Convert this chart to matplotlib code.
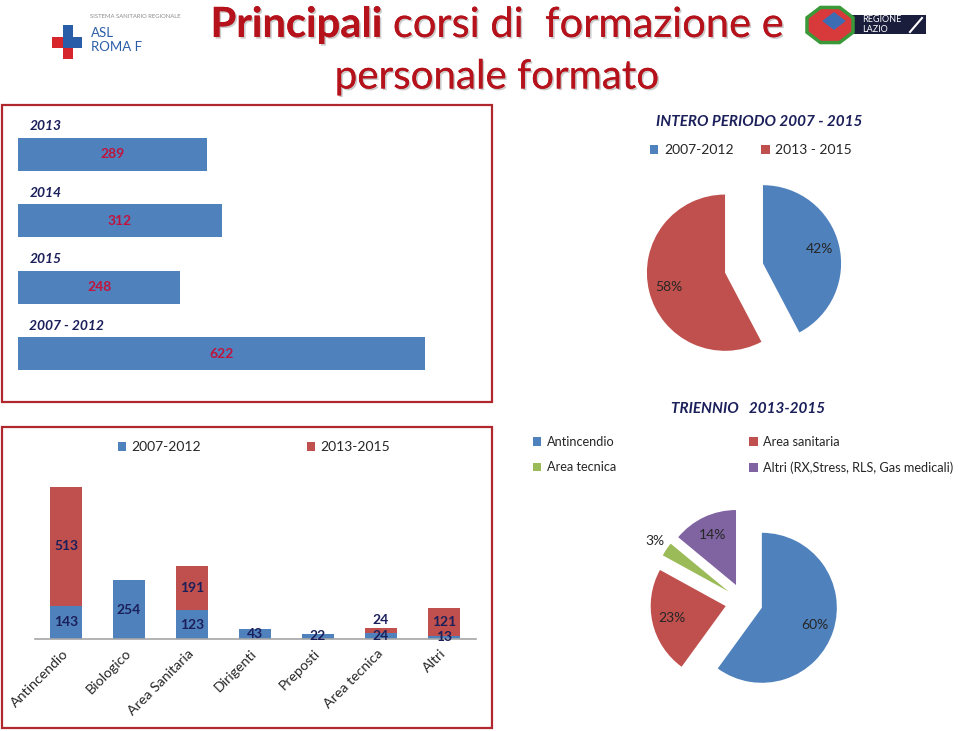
import matplotlib
matplotlib.use("Agg")
import numpy as np
import matplotlib.pyplot as plt
import matplotlib.patches as patches
from matplotlib import patheffects

plt.rcParams["font.family"] = ["Lato", "DejaVu Sans"]

W, H = 959, 731

# --- dati ---
anni = ["2013", "2014", "2015", "2007 - 2012"]
formati_anno = [289, 312, 248, 622]

periodi = ["2007-2012", "2013 - 2015"]
totale_periodi = [622, 849]

categorie = ["Antincendio", "Biologico", "Area Sanitaria", "Dirigenti",
             "Preposti", "Area tecnica", "Altri"]
corsi_0712 = [143, 254, 123, 43, 22, 24, 13]
corsi_1315 = [513, 0, 191, 0, 0, 24, 121]

triennio_voci = ["Antincendio", "Area sanitaria", "Area tecnica",
                 "Altri (RX,Stress, RLS, Gas medicali)"]
triennio_pct = [60, 23, 3, 14]

# --- stile ---
BLU = "#4F81BD"
ROSSO = "#C0504D"
VERDE = "#9BBB59"
VIOLA = "#8064A2"
NAVY = "#1B1F5A"
TITOLO = "#B5121B"
BORDO = "#B0282E"
TESTO = "#262626"


def px_axes(fig, x0, y0, x1, y1):
    # box in pixel (origine in alto a sinistra)
    return fig.add_axes([x0 / W, 1 - y1 / H, (x1 - x0) / W, (y1 - y0) / H])


def fig_rect(fig, x0, y0, x1, y1, **kw):
    r = patches.Rectangle((x0 / W, 1 - y1 / H), (x1 - x0) / W, (y1 - y0) / H,
                          transform=fig.transFigure, **kw)
    fig.patches.append(r)
    return r


def fig_text(fig, x, y, s, **kw):
    return fig.text(x / W, 1 - y / H, s, **kw)


fig = plt.figure(figsize=(W / 100, H / 100), dpi=100)

# --- titolo ---
ombra = [patheffects.withSimplePatchShadow(offset=(1.2, -1.2), shadow_rgbFace="#999999", alpha=0.5),
         patheffects.Normal()]
renderer = fig.canvas.get_renderer()
t1 = fig_text(fig, 0, 25, "Principali", fontsize=30, fontweight="bold", color=TITOLO, va="center")
t2 = fig_text(fig, 0, 25, " corsi di  formazione e", fontsize=30, color=TITOLO, va="center")
w1 = t1.get_window_extent(renderer).width
w2 = t2.get_window_extent(renderer).width
x_start = 497 - (w1 + w2) / 2
t1.set_x(x_start / W)
t2.set_x((x_start + w1) / W)
t3 = fig_text(fig, 497, 77, "personale formato", fontsize=29, color=TITOLO, va="center", ha="center")
for t in (t1, t2, t3):
    t.set_path_effects(ombra)

# --- logo ASL ---
fig_rect(fig, 63, 25, 73, 48, facecolor="#2A5DA8", edgecolor="none")
fig_rect(fig, 73, 37, 82, 48, facecolor="#2A5DA8", edgecolor="none")
fig_rect(fig, 52, 37, 63, 48, facecolor="#D7262B", edgecolor="none")
fig_rect(fig, 63, 48, 73, 59, facecolor="#D7262B", edgecolor="none")
fig_text(fig, 90, 17, "SISTEMA SANITARIO REGIONALE", fontsize=4.2, color="#8A8A8A", va="center")
fig_text(fig, 91, 33, "ASL", fontsize=9.5, color="#2A5DA8", va="center")
fig_text(fig, 91, 47, "ROMA F", fontsize=9.5, color="#2A5DA8", va="center")

# --- logo Regione Lazio ---
fig_rect(fig, 812, 15, 926, 34, facecolor="#1A1E3C", edgecolor="none")
fig.lines.append(plt.Line2D([910 / W, 922 / W], [1 - 32 / H, 1 - 18 / H],
                            transform=fig.transFigure, color="white", lw=1.5))
stemma = patches.RegularPolygon((830 / W, 1 - 25 / H), numVertices=8, radius=19 / H,
                                orientation=0.39, transform=fig.transFigure,
                                facecolor="#D8393A", edgecolor="#3A9A3A", lw=2.5)
fig.patches.append(stemma)
fig.patches.append(patches.RegularPolygon((834 / W, 1 - 21 / H), numVertices=4, radius=9 / H,
                                          transform=fig.transFigure,
                                          facecolor="#3C6DB4", edgecolor="none"))
fig_text(fig, 862, 20, "REGIONE", fontsize=6.5, color="white", va="center")
fig_text(fig, 862, 30, "LAZIO", fontsize=6.5, color="white", va="center")

# --- riquadri ---
fig_rect(fig, 2, 105, 492, 402, facecolor="none", edgecolor=BORDO, lw=1.6)
fig_rect(fig, 2, 427, 492, 728, facecolor="none", edgecolor=BORDO, lw=1.6)

# --- barre orizzontali per anno ---
ax1 = px_axes(fig, 18, 104, 425, 404)
pos = list(range(len(anni)))
ax1.barh(pos, formati_anno, height=0.5, color=BLU)
ax1.set_xlim(0, max(formati_anno))
ax1.set_ylim(3 + (404 - 353.7) / 66.4, -(154.3 - 104) / 66.4)
ax1.axis("off")
for i, (lab, v) in enumerate(zip(anni, formati_anno)):
    ax1.text(v / 2, i, str(v), ha="center", va="center", fontsize=10,
             fontweight="bold", color="#C0143C")
    ax1.text(0.028, i - 0.42, lab, transform=ax1.get_yaxis_transform(),
             ha="left", va="center", fontsize=10, fontweight="bold",
             fontstyle="italic", color=NAVY)

# --- torta intero periodo ---
fig_text(fig, 759, 122, "INTERO PERIODO 2007 - 2015", ha="center", va="center",
         fontsize=11, fontweight="bold", fontstyle="italic", color=NAVY)
ax2 = px_axes(fig, 744 - 125, 268 - 125, 744 + 125, 268 + 125)
w2p, _, at2 = ax2.pie(totale_periodi, colors=[BLU, ROSSO], startangle=90, counterclock=False,
                      explode=[0.25, 0.25], autopct=lambda p: f"{p:.0f}%", pctdistance=0.74,
                      wedgeprops=dict(linewidth=0), textprops=dict(fontsize=10, color=TESTO))
ax2.set_xlim(-1.6, 1.6)
ax2.set_ylim(-1.6, 1.6)
leg2 = ax2.legend(w2p, periodi, loc="center", bbox_to_anchor=(751 / W, 1 - 150 / H),
                  bbox_transform=fig.transFigure, ncol=2, frameon=False, fontsize=10,
                  handlelength=0.6, handleheight=0.6, handletextpad=0.4, columnspacing=2.0)
for t in leg2.get_texts():
    t.set_color(TESTO)

# --- barre impilate per categoria ---
ax3 = px_axes(fig, 34.5, 480, 475.5, 639)
x = list(range(len(categorie)))
ax3.bar(x, corsi_0712, width=0.5, color=BLU, label="2007-2012")
ax3.bar(x, corsi_1315, width=0.5, bottom=corsi_0712, color=ROSSO, label="2013-2015")
ax3.set_xlim(-0.5, len(categorie) - 0.5)
ax3.set_ylim(0, 685)
for s in ("top", "right", "left"):
    ax3.spines[s].set_visible(False)
ax3.spines["bottom"].set_color("#A6A6A6")
ax3.spines["bottom"].set_linewidth(1.2)
ax3.set_yticks([])
ax3.set_xticks(x)
ax3.set_xticklabels(categorie, rotation=45, ha="right", va="center",
                    rotation_mode="anchor", fontsize=10.2, color=TESTO)
ax3.tick_params(axis="x", length=0, pad=9)
ax3.patch.set_alpha(0)

for i in x:
    a, b = corsi_0712[i], corsi_1315[i]
    ax3.text(i, a / 2, str(a), ha="center", va="center", fontsize=10,
             fontweight="bold", color=NAVY)
    if b:
        dy = 8 if b < 40 else 0
        ax3.annotate(str(b), (i, a + b / 2), xytext=(0, dy), textcoords="offset points",
                     ha="center", va="center", fontsize=10, fontweight="bold", color=NAVY)

leg3 = ax3.legend(loc="center", bbox_to_anchor=(254 / W, 1 - 447 / H),
                  bbox_transform=fig.transFigure, ncol=2, frameon=False, fontsize=10,
                  handlelength=0.6, handleheight=0.6, handletextpad=0.4, columnspacing=7.6)
for t in leg3.get_texts():
    t.set_color(TESTO)

# --- torta triennio ---
fig_text(fig, 748, 409, "TRIENNIO   2013-2015", ha="center", va="center",
         fontsize=11, fontweight="bold", fontstyle="italic", color=NAVY)
ax4 = px_axes(fig, 744 - 120, 602 - 120, 744 + 120, 602 + 120)
w4, _, at4 = ax4.pie(triennio_pct, colors=[BLU, ROSSO, VERDE, VIOLA], startangle=90,
                     counterclock=False, explode=[0.25] * 4,
                     autopct=lambda p: f"{p:.0f}%", pctdistance=0.74,
                     wedgeprops=dict(linewidth=0), textprops=dict(fontsize=10, color=TESTO))
# etichetta del 3% fuori dalla fetta
wg = w4[2]
th = np.deg2rad((wg.theta1 + wg.theta2) / 2)
at4[2].set_position((1.44 * np.cos(th), 1.44 * np.sin(th)))
ax4.set_xlim(-1.6, 1.6)
ax4.set_ylim(-1.6, 1.6)
ordine = [0, 2, 1, 3]
leg4 = ax4.legend([w4[k] for k in ordine], [triennio_voci[k] for k in ordine],
                  loc="upper left", bbox_to_anchor=(533 / W, 1 - 436 / H),
                  bbox_transform=fig.transFigure, ncol=2, frameon=False, fontsize=9.2,
                  handlelength=0.65, handleheight=0.65, handletextpad=0.45,
                  columnspacing=10.4, labelspacing=1.05, borderpad=0, borderaxespad=0)
for t in leg4.get_texts():
    t.set_color(TESTO)

fig.savefig("out.png", dpi=100)
